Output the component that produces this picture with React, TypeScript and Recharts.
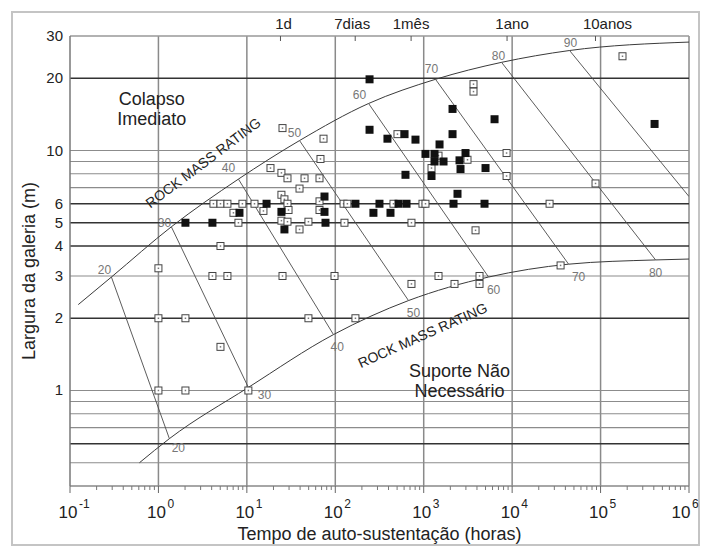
import { ScatterChart, Scatter, XAxis, YAxis, CartesianGrid } from "recharts";

// Bieniawski stand-up time chart
const decadeTicks = [0.1, 1, 10, 100, 1000, 10000, 100000, 1000000];
const decadeExponents = ["-1", "0", "1", "2", "3", "4", "5", "6"];
const minorTicks = decadeTicks
  .slice(0, -1)
  .flatMap((d) => [2, 3, 4, 5, 6, 7, 8, 9].map((k) => d * k));
const spanTicks = [1, 2, 3, 4, 5, 6, 10, 20, 30];
const timeTicks = [24, 168, 720, 8760, 87600];
const timeLabels = ["1d", "7dias", "1mês", "1ano", "10anos"];

const gridDark = [20, 6, 5, 4, 2, 0.6];
const gridLight = [10, 9, 8, 7, 3, 1, 0.9, 0.8, 0.7, 0.5];
const gridVertical = [1, 10, 100, 1000, 10000, 100000, 1000000];

// boundary curves (hours, metres)
const upperCurve: [number, number][] = [
  [0.124, 2.28], [0.294, 2.97], [1.4, 4.81], [8.03, 7.6], [39.4, 11.0],
  [238, 15.7], [1360, 19.8], [7590, 23.3], [44600, 26.1], [1000000, 28.3],
];
const lowerCurve: [number, number][] = [
  [0.61, 0.5], [1.33, 0.63], [10.4, 1.03], [95.4, 1.71], [673, 2.37],
  [5410, 2.97], [43500, 3.36], [419000, 3.5], [1000000, 3.53],
];

// constant RMR lines 20..90
const rmrValues = ["20", "30", "40", "50", "60", "70", "80", "90"];
const rmrLines: [number, number][][] = [
  [[0.294, 2.97], [1.33, 0.63]],
  [[1.4, 4.81], [10.4, 1.03]],
  [[8.03, 7.6], [95.4, 1.71]],
  [[39.4, 11.0], [673, 2.37]],
  [[238, 15.7], [5410, 2.97]],
  [[1360, 19.8], [43500, 3.36]],
  [[7590, 23.3], [419000, 3.5]],
  [[44600, 26.1], [1000000, 6.43]],
];
const upperLabelAt: [number, number][] = [
  [0.245, 3.19], [1.17, 5], [6.19, 8.45], [34.5, 11.8],
  [188, 17.1], [1225, 21.8], [7010, 24.7], [45700, 28],
];
const lowerLabelAt: [number, number][] = [
  [1.68, 0.577], [15.8, 0.955], [105, 1.52], [767, 2.1],
  [6170, 2.63], [56400, 2.98], [419000, 3.09],
];

// case histories: black = collapse, open = stable
const collapsed: [number, number][] = [
  [2.02, 5], [4.08, 5], [8.25, 5.5], [16.7, 6], [24.6, 5.55], [26.6, 4.69],
  [75.5, 6.43], [75.5, 5.55], [77.5, 5], [169, 6], [270, 5.5], [316, 6],
  [421, 5.5], [519, 6], [639, 6], [2173, 6], [2410, 6.6], [4871, 6],
  [244, 19.8], [244, 12.2], [389, 11.2], [607, 11.7], [807, 11.1],
  [2118, 14.9], [6324, 13.5], [2118, 11.7], [1510, 10.6], [1047, 9.68],
  [1325, 9.68], [2970, 9.76], [1325, 9], [1675, 9], [2540, 9.1],
  [2607, 8.37], [5000, 8.45], [622, 7.92], [1225, 7.83], [408000, 12.9],
];
const stable: [number, number][] = [
  [1, 3.23], [1, 2], [2.02, 2], [1, 1], [2.02, 1], [4.08, 3], [6.03, 3],
  [5.03, 4], [5.03, 1.52], [4.19, 6], [5.03, 6], [6.03, 6], [8.91, 6],
  [12.2, 6], [7.05, 5.5], [8.03, 5], [15.4, 5.6], [18.5, 8.45], [25.3, 12.4],
  [73.6, 11.2], [68, 9.22], [24.6, 8.07], [28.8, 7.66], [44.9, 7.66],
  [66.3, 7.66], [39.4, 6.94], [24.6, 6.54], [26.6, 6.26], [28.8, 6],
  [29.6, 5.65], [66.3, 6.14], [66.3, 5.65], [24.6, 5.1], [28.8, 5.05],
  [49.7, 5.05], [39.4, 4.69], [127, 5], [124, 6], [137, 6], [455, 6],
  [968, 6], [1047, 6], [727, 5], [3855, 4.65], [26500, 6], [3656, 18.9],
  [3656, 17.6], [505, 11.7], [1470, 9.52], [3127, 9.15], [1225, 8.45],
  [8650, 9.76], [8650, 7.83], [177000, 24.7], [87700, 7.29], [25.3, 3],
  [98, 3], [727, 2.78], [1470, 3], [2230, 2.78], [4276, 3], [4276, 2.78],
  [35300, 3.32], [49.7, 2], [169, 2], [10.4, 1],
];

const collapseText = ["Colapso", "Imediato"];
const collapseAt: [number, number][] = [[0.84, 15]];
const noSupportText = ["Suporte Não", "Necessário"];
const noSupportAt: [number, number][] = [[2540, 1.11]];
const ratingText = "ROCK MASS RATING";
const ratingUpperAt: [number, number][] = [[3.2, 8.9]];
const ratingLowerAt: [number, number][] = [[969, 1.7]];

const FONT = '"Liberation Sans", Arial, sans-serif';
const toPts = (arr: [number, number][], tags?: string[]) =>
  arr.map(([x, y], i) => ({ x, y, t: tags ? tags[i] : "" }));

function BottomTick({ x, y, payload }: any) {
  const i = decadeTicks.indexOf(payload.value);
  if (i < 0) return <line x1={x} x2={x} y1={y} y2={y + 4} stroke="#777" />;
  // last label is pulled in so it stays inside the frame
  const shift = i === decadeTicks.length - 1 ? -6 : 0;
  return (
    <g fontFamily={FONT} fill="#222">
      <line x1={x} x2={x} y1={y} y2={y + 7} stroke="#666" />
      <text x={x - 2 + shift} y={y + 32} textAnchor="middle" fontSize={17}>10</text>
      <text x={x + 9 + shift} y={y + 22} fontSize={12}>{decadeExponents[i]}</text>
    </g>
  );
}

const topLabelShift = [3, -3, 0, 5, 12];

function TopTick({ x, y, payload }: any) {
  const i = timeTicks.indexOf(payload.value);
  return (
    <g>
      <line x1={x} x2={x} y1={y} y2={y + 5} stroke="#555" />
      <text x={x + topLabelShift[i]} y={y - 7} textAnchor="middle" fontSize={15} fontFamily={FONT} fill="#222">
        {timeLabels[i]}
      </text>
    </g>
  );
}

function LeftTick({ x, y, payload }: any) {
  return (
    <text x={x - 7} y={y + 5} textAnchor="end" fontSize={15} fontFamily={FONT} fill="#222">
      {payload.value}
    </text>
  );
}

const noDot = () => <g />;

function FilledSquare({ cx, cy }: any) {
  return <rect x={cx - 4} y={cy - 4} width={8} height={8} fill="#111" />;
}

function OpenSquare({ cx, cy }: any) {
  return (
    <g>
      <rect x={cx - 3.5} y={cy - 3.5} width={7} height={7} fill="#fff" stroke="#444" strokeWidth={1} />
      <rect x={cx - 0.75} y={cy - 0.75} width={1.5} height={1.5} fill="#777" />
    </g>
  );
}

function RmrLabel({ cx, cy, payload }: any) {
  return (
    <text x={cx} y={cy + 4} textAnchor="middle" fontSize={12} fontFamily={FONT} fill="#777">
      {payload.t}
    </text>
  );
}

function TwoLines(lines: string[]) {
  return ({ cx, cy }: any) => (
    <text textAnchor="middle" fontSize={18} fontFamily={FONT} fill="#222">
      <tspan x={cx} y={cy - 3}>{lines[0]}</tspan>
      <tspan x={cx} y={cy + 17}>{lines[1]}</tspan>
    </text>
  );
}

function Rotated(angle: number) {
  return ({ cx, cy }: any) => (
    <text
      x={cx}
      y={cy + 5}
      textAnchor="middle"
      fontSize={14}
      fontFamily={FONT}
      fill="#222"
      transform={`rotate(${angle} ${cx} ${cy})`}
    >
      {ratingText}
    </text>
  );
}

function YTitle(props: any) {
  const vb = props.viewBox || { x: 0, y: 36, width: 70, height: 450 };
  const cx = vb.x + 29;
  const cy = vb.y + vb.height / 2 + 10;
  return (
    <text
      x={cx}
      y={cy}
      textAnchor="middle"
      fontSize={18}
      fontFamily={FONT}
      fill="#222"
      transform={`rotate(-90 ${cx} ${cy})`}
      dy={6}
    >
      Largura da galeria (m)
    </text>
  );
}

export default function App() {
  const bottomTicks = [...decadeTicks, ...minorTicks].sort((a, b) => a - b);
  return (
    <div style={{ position: "absolute", left: 0, top: 0, width: 702, height: 546, background: "#fff" }}>
      <div
        style={{
          position: "absolute",
          left: 11,
          top: 11,
          width: 689,
          height: 535,
          border: "2px solid #c4c4c4",
          boxSizing: "border-box",
        }}
      />
      <ScatterChart
        width={702}
        height={546}
        margin={{ top: 0, right: 13, bottom: 0, left: 0 }}
        style={{ position: "absolute", left: 0, top: 0 }}
      >
        <CartesianGrid horizontal={false} verticalValues={gridVertical} stroke="#8a8a8a" strokeWidth={1.5} />
        <CartesianGrid vertical={false} horizontalValues={gridLight} stroke="#8c8c8c" strokeWidth={1.2} />
        <CartesianGrid vertical={false} horizontalValues={gridDark} stroke="#333" strokeWidth={1.5} />
        <XAxis
          dataKey="x"
          type="number"
          scale="log"
          domain={[0.1, 1000000]}
          allowDataOverflow
          ticks={bottomTicks}
          interval={0}
          tick={<BottomTick />}
          tickLine={false}
          tickSize={0}
          tickMargin={0}
          height={60}
          axisLine={{ stroke: "#888", strokeWidth: 1.5 }}
          label={{
            value: "Tempo de auto-sustentação (horas)",
            position: "insideBottom",
            offset: 6,
            fontSize: 18,
            fontFamily: FONT,
            fill: "#222",
          }}
        />
        <XAxis
          xAxisId="top"
          orientation="top"
          dataKey="x"
          type="number"
          scale="log"
          domain={[0.1, 1000000]}
          allowDataOverflow
          ticks={timeTicks}
          interval={0}
          tick={<TopTick />}
          tickLine={false}
          tickSize={0}
          tickMargin={0}
          height={36}
          axisLine={{ stroke: "#999", strokeWidth: 1.5 }}
        />
        <YAxis
          dataKey="y"
          type="number"
          scale="log"
          domain={[0.4, 30]}
          allowDataOverflow
          ticks={spanTicks}
          interval={0}
          tick={<LeftTick />}
          tickLine={false}
          tickSize={0}
          tickMargin={0}
          width={70}
          axisLine={{ stroke: "#777", strokeWidth: 1.5 }}
          label={{ content: YTitle }}
        />

        <Scatter data={toPts(upperCurve)} line={{ stroke: "#3a3a3a", strokeWidth: 1 }} lineJointType="monotoneX" shape={noDot} isAnimationActive={false} />
        <Scatter data={toPts(lowerCurve)} line={{ stroke: "#3a3a3a", strokeWidth: 1 }} lineJointType="monotoneX" shape={noDot} isAnimationActive={false} />
        {rmrLines.map((seg, i) => (
          <Scatter key={rmrValues[i]} data={toPts(seg)} line={{ stroke: "#4a4a4a", strokeWidth: 0.9 }} shape={noDot} isAnimationActive={false} />
        ))}

        <Scatter data={toPts(stable)} shape={OpenSquare} isAnimationActive={false} />
        <Scatter data={toPts(collapsed)} shape={FilledSquare} isAnimationActive={false} />

        <Scatter data={toPts(upperLabelAt, rmrValues)} shape={RmrLabel} isAnimationActive={false} />
        <Scatter data={toPts(lowerLabelAt, rmrValues)} shape={RmrLabel} isAnimationActive={false} />
        <Scatter data={toPts(collapseAt)} shape={TwoLines(collapseText)} isAnimationActive={false} />
        <Scatter data={toPts(noSupportAt)} shape={TwoLines(noSupportText)} isAnimationActive={false} />
        <Scatter data={toPts(ratingUpperAt)} shape={Rotated(-37)} isAnimationActive={false} />
        <Scatter data={toPts(ratingLowerAt)} shape={Rotated(-24)} isAnimationActive={false} />
      </ScatterChart>
    </div>
  );
}
